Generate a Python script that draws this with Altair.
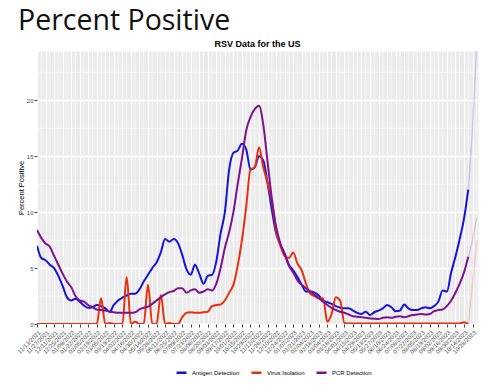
import altair as alt
import pandas as pd

# ---- data (weekly, week ending Saturday) ----
weeks = pd.date_range("2021-11-13", periods=102, freq="7D").strftime("%Y-%m-%d").tolist()

antigen = [7.0, 5.9, 5.7, 5.3, 5.0, 4.3, 3.4, 2.4, 2.1, 2.25,
           2.0, 1.65, 1.45, 1.5, 1.7, 1.6, 1.4, 1.1, 1.7, 2.1,
           2.35, 2.55, 2.7, 2.7, 3.1, 3.8, 4.4, 5.0, 5.5, 6.4,
           7.6, 7.35, 7.6, 7.25, 6.2, 4.9, 4.4, 5.3, 4.5, 3.6,
           4.3, 4.4, 5.6, 8.1, 10.0, 13.8, 15.3, 15.5, 16.1, 15.6,
           13.8, 14.0, 15.0, 14.6, 12.6, 10.2, 8.1, 7.1, 6.3, 5.3,
           4.8, 4.2, 3.5, 2.9, 2.9, 2.8, 2.55, 2.1, 1.95, 1.8,
           1.6, 1.45, 1.4, 1.4, 1.2, 1.0, 0.9, 1.1, 0.8, 1.05,
           1.2, 1.4, 1.7, 1.5, 1.15, 1.2, 1.75, 1.4, 1.25, 1.25,
           1.4, 1.5, 1.4, 1.6, 2.0, 3.0, 2.9, 4.6, 6.0, 7.6,
           9.4, 12.0]

virus = [0.0, 0.0, 0.0, 0.0, 0.0, 0.0, 0.0, 0.0, 0.0, 0.0,
         0.0, 0.0, 0.0, 0.0, 0.0, 2.3, 0.0, 0.1, 0.0, 0.0,
         0.0, 4.2, 0.0, 0.2, 0.0, 0.0, 3.5, 0.0, 0.0, 2.6,
         0.0, 0.1, 0.0, 0.0, 0.6, 1.0, 1.05, 1.0, 1.0, 1.05,
         1.1, 1.6, 1.7, 1.75, 2.1, 2.8, 3.5, 5.2, 7.5, 10.5,
         13.8, 14.0, 15.8, 14.0, 12.6, 11.0, 8.3, 7.0, 6.1, 5.9,
         6.4, 5.4, 4.8, 3.6, 2.7, 2.5, 2.3, 2.3, 0.2, 0.9,
         2.4, 2.1, 0.1, 0.05, 0.05, 0.05, 0.05, 0.05, 0.05, 0.05,
         0.05, 0.05, 0.05, 0.05, 0.05, 0.05, 0.05, 0.05, 0.05, 0.05,
         0.05, 0.05, 0.05, 0.05, 0.05, 0.05, 0.05, 0.05, 0.05, 0.05,
         0.15, 0.0]

pcr = [8.4, 7.7, 7.2, 6.9, 6.1, 5.3, 4.5, 3.8, 3.3, 2.5,
       2.1, 2.0, 1.7, 1.5, 1.3, 1.25, 1.2, 1.1, 1.05, 1.0,
       1.0, 1.0, 1.0, 1.05, 1.3, 1.45, 1.55, 1.8, 2.1, 2.4,
       2.65, 2.85, 2.95, 3.2, 3.2, 2.8, 3.0, 3.1, 2.8, 2.9,
       3.1, 3.0, 3.6, 5.0, 6.8, 8.2, 10.0, 12.5, 14.8, 17.3,
       18.5, 19.2, 19.5, 17.8, 14.5, 11.2, 8.7, 7.2, 6.2, 5.2,
       4.6, 3.9, 3.5, 3.2, 2.9, 2.6, 2.3, 2.0, 1.7, 1.45,
       1.25, 1.1, 1.0, 0.85, 0.7, 0.65, 0.6, 0.55, 0.5, 0.48,
       0.45, 0.55, 0.6, 0.55, 0.65, 0.7, 0.6, 0.7, 0.8, 0.85,
       0.9, 0.85, 0.9, 1.15, 1.25, 1.3, 1.6, 2.1, 2.8, 3.6,
       4.6, 6.0]

series_names = ["Antigen Detection", "Virus Isolation", "PCR Detection"]
series_colors = ["#1414DC", "#E8300E", "#7D1290"]

# faint preliminary weeks shown past the last solid point
prelim_weeks = ["2023-10-28", "2023-11-04"]
prelim_antigen = [17.5, 25.0]
prelim_virus = [3.5, 7.5]
prelim_pcr = [7.5, 9.5]

x_major = pd.date_range("2021-11-13", "2023-10-28", freq="14D")
x_minor = pd.date_range("2021-11-20", "2023-11-04", freq="14D").strftime("%Y-%m-%d").tolist()
y_major = [0, 5, 10, 15, 20]
y_minor = [2.5, 7.5, 12.5, 17.5, 22.5]

page_title = "Percent Positive"
chart_title = "RSV Data for the US"
y_title = "Percent Positive"

# ---- tables ----
rows = []
for name, vals in zip(series_names, [antigen, virus, pcr]):
    for d, v in zip(weeks, vals):
        rows.append({"date": d, "value": v, "series": name})
df = pd.DataFrame(rows)

prelim_rows = []
for name, vals, pv in zip(series_names, [antigen, virus, pcr],
                          [prelim_antigen, prelim_virus, prelim_pcr]):
    prelim_rows.append({"date": weeks[-1], "value": vals[-1], "series": name})
    for d, v in zip(prelim_weeks, pv):
        prelim_rows.append({"date": d, "value": v, "series": name})
prelim_df = pd.DataFrame(prelim_rows)


def dt(ts):
    return alt.DateTime(year=ts.year, month=ts.month, date=ts.day, utc=True)


x_scale = alt.Scale(type="utc", nice=False,
                    domain=[dt(pd.Timestamp("2021-11-13")), dt(pd.Timestamp("2023-11-06"))])
y_scale = alt.Scale(domain=[0, 24.4], nice=False, zero=False)

x_axis = alt.Axis(values=[dt(t) for t in x_major], format="%m/%d/%Y", title=None,
                  labelAngle=-45, labelAlign="right", labelBaseline="top",
                  labelFontSize=6, labelColor="#4d4d4d", labelPadding=2,
                  labelOverlap=False, labelBound=False, labelFlush=False,
                  tickSize=3, tickColor="#444444", domain=False,
                  grid=True, gridColor="white", gridWidth=1)
y_axis = alt.Axis(values=y_major, title=y_title, titleFontSize=7.5,
                  titleFont="Liberation Sans", titleFontWeight="normal", titleColor="black",
                  titleX=-16, titleY=136.5, titleAngle=-90, titleAlign="center",
                  titleBaseline="middle",
                  labelFontSize=6, labelColor="#4d4d4d", labelPadding=1,
                  labelOverlap=False, tickSize=3, tickColor="#444444", domain=False,
                  grid=True, gridColor="white", gridWidth=1.3)

color_enc = alt.Color("series:N",
                      scale=alt.Scale(domain=series_names, range=series_colors),
                      legend=alt.Legend(orient="none", direction="horizontal", title=None,
                                        legendX=138, legendY=315,
                                        symbolType="stroke", symbolSize=100,
                                        symbolStrokeWidth=2.5, symbolOpacity=1,
                                        labelFontSize=6, labelFont="Liberation Sans",
                                        labelColor="black", labelOffset=4,
                                        columnPadding=6))

lines = alt.Chart(df).mark_line(interpolate="monotone", strokeWidth=2, clip=True).encode(
    x=alt.X("date:T", scale=x_scale, axis=x_axis),
    y=alt.Y("value:Q", scale=y_scale, axis=y_axis),
    color=color_enc,
)

minor_x = alt.Chart(pd.DataFrame({"d": x_minor})).mark_rule(
    color="white", strokeWidth=0.6).encode(x=alt.X("d:T", scale=x_scale, axis=x_axis))
minor_y = alt.Chart(pd.DataFrame({"v": y_minor})).mark_rule(
    color="white", strokeWidth=0.6).encode(y=alt.Y("v:Q", scale=y_scale, axis=y_axis))

faint = alt.Chart(prelim_df).mark_line(interpolate="monotone", strokeWidth=1.5,
                                       opacity=0.18, clip=True).encode(
    x=alt.X("date:T", scale=x_scale, axis=x_axis),
    y=alt.Y("value:Q", scale=y_scale, axis=y_axis),
    color=color_enc,
)

big_title = alt.Chart(pd.DataFrame({"t": [page_title]})).mark_text(
    align="left", baseline="alphabetic", font="Open Sans", fontSize=28.5, color="#111111"
).encode(text="t:N", x=alt.value(-19), y=alt.value(-21))

sub_title = alt.Chart(pd.DataFrame({"t": [chart_title]})).mark_text(
    align="center", baseline="middle", font="Liberation Sans", fontSize=9,
    fontWeight="bold", color="black"
).encode(text="t:N", x=alt.value(220.5), y=alt.value(-7))

chart = alt.layer(minor_x, minor_y, lines, faint, big_title, sub_title).properties(
    width=441, height=273,
    padding={"left": 29, "top": 43, "right": 14, "bottom": 57},
    autosize=alt.AutoSizeParams(type="none"),
).configure_view(fill="#EBEBEB", stroke="transparent").configure_axis(
    labelFont="Liberation Sans", labelOverlap=False)

chart.save("out.html", embed_options={"renderer": "svg", "actions": False})
